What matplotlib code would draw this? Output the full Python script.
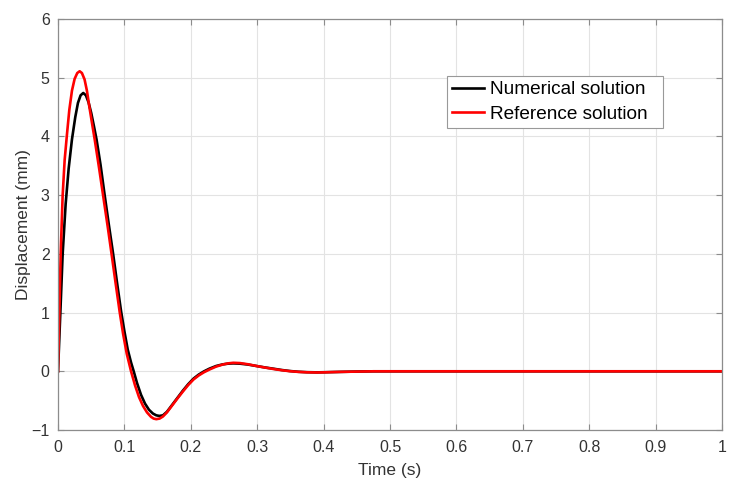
import matplotlib.pyplot as plt

plt.rcParams['font.family'] = ['Liberation Sans', 'DejaVu Sans']

# numerical solution (black curve)
t_num = [0, 0.0035, 0.007, 0.0115, 0.016, 0.021, 0.026, 0.030, 0.034, 0.038,
         0.042, 0.046, 0.050, 0.054, 0.058, 0.064, 0.070, 0.0765, 0.083, 0.089,
         0.095, 0.100, 0.105, 0.110, 0.114, 0.119, 0.125, 0.131, 0.137, 0.143,
         0.148, 0.1526, 0.158, 0.164, 0.172, 0.180, 0.188, 0.196, 0.204, 0.212,
         0.220, 0.228, 0.238, 0.248, 0.256, 0.264, 0.274, 0.286, 0.299, 0.312,
         0.324, 0.337, 0.349, 0.362, 0.375, 0.390, 0.400, 0.425, 0.450, 0.475,
         0.5, 0.6, 0.7, 0.8, 0.9, 1.0]
d_num = [0, 1.0, 2.0, 2.85, 3.45, 3.95, 4.33, 4.57, 4.70, 4.74,
         4.70, 4.58, 4.40, 4.18, 3.95, 3.52, 3.02, 2.50, 2.0, 1.5,
         1.02, 0.68, 0.37, 0.15, 0.0, -0.2, -0.40, -0.55, -0.655, -0.72,
         -0.75, -0.76, -0.75, -0.69, -0.57, -0.45, -0.33, -0.22, -0.125, -0.055,
         0.0, 0.045, 0.09, 0.118, 0.13, 0.135, 0.13, 0.115, 0.09, 0.065,
         0.045, 0.022, 0.005, -0.008, -0.015, -0.018, -0.016, -0.01, -0.004, 0.0,
         0.0, 0.0, 0.0, 0.0, 0.0, 0.0]

# reference solution (red curve)
t_ref = [0, 0.002, 0.004, 0.007, 0.010, 0.0136, 0.017, 0.021, 0.025, 0.029,
         0.0326, 0.036, 0.040, 0.0435, 0.047, 0.051, 0.0555, 0.062, 0.0685, 0.075,
         0.081, 0.087, 0.093, 0.098, 0.1035, 0.110, 0.116, 0.122, 0.128, 0.134,
         0.140, 0.144, 0.148, 0.153, 0.158, 0.164, 0.172, 0.180, 0.188, 0.196,
         0.204, 0.212, 0.220, 0.228, 0.238, 0.248, 0.256, 0.264, 0.274, 0.286,
         0.299, 0.312, 0.324, 0.337, 0.349, 0.362, 0.375, 0.390, 0.400, 0.425,
         0.450, 0.475, 0.5, 0.6, 0.7, 0.8, 0.9, 1.0]
d_ref = [0, 1.0, 2.0, 3.0, 3.6, 4.05, 4.45, 4.78, 4.98, 5.08,
         5.11, 5.08, 4.97, 4.78, 4.52, 4.24, 3.93, 3.45, 2.95, 2.45,
         1.97, 1.48, 1.0, 0.64, 0.30, 0.0, -0.24, -0.44, -0.59, -0.70,
         -0.775, -0.805, -0.815, -0.805, -0.77, -0.70, -0.58, -0.46, -0.345, -0.235,
         -0.14, -0.07, -0.015, 0.03, 0.08, 0.115, 0.135, 0.145, 0.14, 0.12,
         0.09, 0.063, 0.04, 0.018, 0.002, -0.01, -0.017, -0.02, -0.018, -0.01,
         -0.005, 0.0, 0.0, 0.0, 0.0, 0.0, 0.0, 0.0]

xticks = [0, 0.1, 0.2, 0.3, 0.4, 0.5, 0.6, 0.7, 0.8, 0.9, 1]
xlabels = ["0", "0.1", "0.2", "0.3", "0.4", "0.5", "0.6", "0.7", "0.8", "0.9", "1"]
yticks = [-1, 0, 1, 2, 3, 4, 5, 6]

fig = plt.figure(figsize=(7.4, 4.91), dpi=100)
ax = fig.add_axes([0.0784, 0.1242, 0.8973, 0.8371])

ax.plot(t_num, d_num, color="black", lw=1.9, solid_joinstyle="round",
        label="Numerical solution")
ax.plot(t_ref, d_ref, color="#ff0000", lw=1.9, solid_joinstyle="round",
        label="Reference solution")

ax.set_xlim(0, 1)
ax.set_ylim(-1, 6)
ax.set_xticks(xticks)
ax.set_xticklabels(xlabels)
ax.set_yticks(yticks)
ax.grid(True, color="#e3e3e3", lw=0.8)
ax.set_axisbelow(True)

for s in ax.spines.values():
    s.set_color("#8c8c8c")
    s.set_linewidth(0.9)
ax.tick_params(direction="in", length=4, width=0.8, color="#8c8c8c",
               top=True, right=True, labelsize=11.5, labelcolor="#333333")
ax.tick_params(axis="x", pad=7)
ax.tick_params(axis="y", pad=6)

ax.set_xlabel("Time (s)", fontsize=12.5, color="#333333", labelpad=6)
ax.set_ylabel("Displacement (mm)", fontsize=12.5, color="#333333", labelpad=0)

leg = ax.legend(loc="upper left", bbox_to_anchor=(0.586, 0.740, 0.325, 0.121),
                mode="expand", borderaxespad=0, fontsize=13.7, fancybox=False,
                edgecolor="#999999", framealpha=1, handlelength=1.7,
                handletextpad=0.3, labelspacing=0.38, borderpad=0.25)
leg.get_frame().set_linewidth(0.8)

plt.savefig("out.png", dpi=100)
